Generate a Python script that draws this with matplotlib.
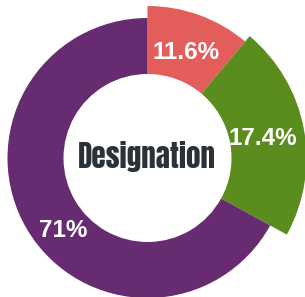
import numpy as np
import matplotlib
matplotlib.use("Agg")
from matplotlib import pyplot as plt

# slice sizes as drawn (share of the ring), with the printed labels
categories = ['A', 'B', 'C']
sizes = [11.1, 21.9, 67.0]
labels = ['11.6%', '17.4%', '71%']
colors = ['#E35D5B', '#5A8C1E', '#662B70']
radii = [152, 159, 140]   # each slice sticks out by a different amount
hole = 84
title = 'Designation'

# label placement tweaks (degrees off the mid-angle, distance from centre)
label_shift = [0, -1, 10]
label_dist = [112, 117, 111]

fig = plt.figure(figsize=(3.05, 2.97), dpi=100)
ax = fig.add_axes([0, 0, 1, 1])

cx, cy = 147.5, 297 - 158
wedges, _ = ax.pie(sizes, colors=colors, radius=140, center=(cx, cy),
                   startangle=90, counterclock=False,
                   wedgeprops=dict(width=140 - hole, linewidth=0))

for w, r, lab, sh, d in zip(wedges, radii, labels, label_shift, label_dist):
    w.set_radius(r)
    w.set_width(r - hole)
    mid = np.deg2rad((w.theta1 + w.theta2) / 2 + sh)
    ax.text(cx + d * np.cos(mid), cy + d * np.sin(mid), lab,
            ha='center', va='center', color='white', fontsize=17.5,
            fontweight='bold', family='Liberation Sans')

ax.text(cx - 1, cy + 1, title, ha='center', va='center', color='#2B3136',
        fontsize=21, family='Anton')

ax.set_xlim(0, 305)
ax.set_ylim(0, 297)
ax.set_aspect('equal')
ax.set_axis_off()
fig.savefig('out.png', dpi=100)
